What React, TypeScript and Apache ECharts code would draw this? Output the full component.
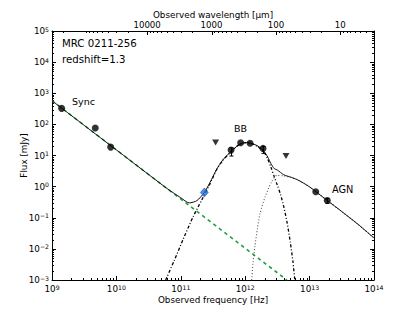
import React, { useEffect, useRef } from 'react';
import * as echarts from 'echarts';

// ---- Data (frequency in Hz, flux in mJy) ----
const totalFreq = [1e9, 3.16e9, 1e10, 3.16e10, 6.31e10, 1e11, 1.35e11, 1.78e11, 2.32e11, 2.82e11, 3.6e11, 4.47e11, 6.03e11, 7.94e11, 1e12, 1.26e12, 1.58e12, 1.9e12, 2.24e12, 2.51e12, 2.82e12, 3.16e12, 3.98e12, 5.01e12, 6.31e12, 7.94e12, 1e13, 1.26e13, 1.88e13, 3.16e13, 5.62e13, 1e14];
const totalFlux = [575, 93, 15.1, 2.45, 0.83, 0.44, 0.3, 0.355, 0.65, 1.32, 3.6, 7.1, 13.5, 21.9, 26.3, 24.5, 20, 14.8, 8.9, 5.5, 3.8, 3.4, 2.4, 2.04, 1.7, 1.32, 0.98, 0.68, 0.36, 0.158, 0.062, 0.0224];

const syncFreq = [1e9, 4.43e12];
const syncFlux = [575, 0.001];

const bbFreq = [5.82e10, 7.94e10, 1.1e11, 1.55e11, 2.11e11, 2.82e11, 3.6e11, 4.47e11, 6.03e11, 7.94e11, 1e12, 1.26e12, 1.58e12, 2e12, 2.24e12, 2.51e12, 2.82e12, 3.16e12, 3.55e12, 3.98e12, 4.47e12, 5.01e12, 5.5e12, 5.89e12];
const bbFlux = [0.001, 0.0043, 0.0214, 0.107, 0.37, 1.2, 3.5, 6.9, 13.2, 21.9, 25.7, 24, 19, 12, 7.6, 4.2, 2.1, 1.1, 0.55, 0.22, 0.071, 0.0166, 0.004, 0.001];

const agnFreq = [1.26e12, 1.32e12, 1.41e12, 1.55e12, 1.7e12, 2.04e12, 2.57e12, 3.09e12, 3.98e12, 5.01e12, 6.31e12, 7.94e12, 1e13, 1.26e13, 1.88e13, 3.16e13, 5.62e13, 1e14];
const agnFlux = [0.001, 0.0035, 0.0117, 0.045, 0.138, 0.47, 1.43, 2.3, 2.2, 2.0, 1.7, 1.32, 0.98, 0.68, 0.36, 0.158, 0.062, 0.0224];

const detFreq = [1.41e9, 4.7e9, 8.15e9, 6.03e11, 8.5e11, 1.19e12, 1.89e12, 1.245e13, 1.88e13];
const detFlux = [327, 76, 18.6, 14.9, 25.7, 24.6, 16.9, 0.68, 0.36];

const errFreq = [6.03e11, 1.89e12, 1.88e13];
const errLow = [9.6, 11.7, 0.29];
const errHigh = [17.5, 19.5, 0.42];

const limFreq = [3.47e11, 4.3e12];
const limFlux = [26, 9.6];

const diamondFreq = [2.32e11];
const diamondFlux = [0.65];

const wavelengthLabels = [10, 100, 1000, 10000];

const FONT = 'DejaVu Sans';

const supRich = {
  b: { fontSize: 8.8, lineHeight: 10, fontFamily: FONT, color: '#000' },
  s: { fontSize: 6.2, lineHeight: 4, verticalAlign: 'top', fontFamily: FONT, color: '#000' },
};
const supFmt = (v: number) => {
  const e = Math.round(Math.log10(v));
  const es = e < 0 ? '\u2212' + Math.abs(e) : String(e);
  return '{b|10}{s|' + es + '}';
};

export default function App() {
  const ref = useRef<HTMLDivElement>(null);
  useEffect(() => {
    const chart = echarts.init(ref.current!, null, { renderer: 'svg' });

    const xMinor: number[] = [];
    for (let n = 9; n <= 13; n++) for (let k = 2; k <= 9; k++) xMinor.push(k * Math.pow(10, n));
    const yMinor: number[] = [];
    for (let n = -3; n <= 4; n++) for (let k = 2; k <= 9; k++) yMinor.push(k * Math.pow(10, n));
    const lMinor: number[] = [];
    for (let n = 0; n <= 5; n++) for (let k = 2; k <= 9; k++) {
      const v = k * Math.pow(10, n);
      if (v > 3 && v < 3e5) lMinor.push(v);
    }

    const tickStyle = { stroke: '#000', lineWidth: 1 };

    const option: any = {
      animation: false,
      backgroundColor: '#fff',
      grid: { left: 52, right: 42, top: 31, bottom: 32, containLabel: false },
      xAxis: [
        {
          type: 'log', logBase: 10, min: 1e9, max: 1e14, position: 'bottom',
          axisLine: { show: true, onZero: false, lineStyle: { color: '#000', width: 1 } },
          axisTick: { show: true, inside: true, length: 4, lineStyle: { color: '#000', width: 1 } },
          axisLabel: { formatter: supFmt, rich: supRich, margin: 4, showMinLabel: true, showMaxLabel: true },
          splitLine: { show: false },
          name: 'Observed frequency [Hz]', nameLocation: 'middle', nameGap: 15, nameMoveOverlap: false,
          nameTextStyle: { fontFamily: FONT, fontSize: 8.8, color: '#000' },
        },
        {
          type: 'log', logBase: 10, min: 3, max: 3e5, inverse: true, position: 'top',
          axisLine: { show: true, onZero: false, lineStyle: { color: '#000', width: 1 } },
          axisTick: { show: false },
          axisLabel: {
            margin: 1.5, fontFamily: FONT, fontSize: 8.6, color: '#000', showMinLabel: true, showMaxLabel: true,
            formatter: (v: number) => (wavelengthLabels.indexOf(Math.round(v)) >= 0 ? String(Math.round(v)) : ''),
          },
          splitLine: { show: false },
          name: 'Observed wavelength [\u03bcm]', nameLocation: 'middle', nameGap: 12, nameMoveOverlap: false,
          nameTextStyle: { fontFamily: FONT, fontSize: 8.8, color: '#000' },
        },
      ],
      yAxis: [
        {
          type: 'log', logBase: 10, min: 1e-3, max: 1e5, position: 'left',
          axisLine: { show: true, onZero: false, lineStyle: { color: '#000', width: 1 } },
          axisTick: { show: true, inside: true, length: 4, lineStyle: { color: '#000', width: 1 } },
          axisLabel: { formatter: supFmt, rich: supRich, margin: 3, showMinLabel: true, showMaxLabel: true },
          splitLine: { show: false },
          name: 'Flux [mJy]', nameLocation: 'middle', nameGap: 24, nameRotate: 90, nameMoveOverlap: false,
          nameTextStyle: { fontFamily: FONT, fontSize: 8.8, color: '#000' },
        },
        {
          type: 'log', logBase: 10, min: 1e-3, max: 1e5, position: 'right',
          axisLine: { show: true, onZero: false, lineStyle: { color: '#000', width: 1 } },
          axisTick: { show: true, inside: true, length: 4, lineStyle: { color: '#000', width: 1 } },
          axisLabel: { show: false },
          splitLine: { show: false },
        },
      ],
      graphic: [
        { type: 'text', left: 62, top: 38, style: { text: 'MRC 0211-256', font: `10.2px "${FONT}"`, fill: '#000' } },
        { type: 'text', left: 62, top: 54, style: { text: 'redshift=1.3', font: `10.2px "${FONT}"`, fill: '#000' } },
        { type: 'text', left: 72, top: 96, style: { text: 'Sync', font: `9.5px "${FONT}"`, fill: '#000' } },
        { type: 'text', left: 234, top: 123, style: { text: 'BB', font: `9.5px "${FONT}"`, fill: '#000' } },
        { type: 'text', left: 332, top: 184, style: { text: 'AGN', font: `9.8px "${FONT}"`, fill: '#000' } },
      ],
      series: [
        {
          type: 'custom', xAxisIndex: 0, yAxisIndex: 0, silent: true, clip: false, z: 1,
          data: [[1e10, 1]],
          renderItem: (params: any, api: any) => {
            const children: any[] = [];
            const yb = api.coord([1e9, 1e-3])[1];
            const xl = api.coord([1e9, 1])[0];
            const xr = api.coord([1e14, 1])[0];
            xMinor.forEach((v) => {
              const x = Math.round(api.coord([v, 1])[0]) + 0.5;
              children.push({ type: 'line', shape: { x1: x, y1: yb, x2: x, y2: yb - 2 }, style: tickStyle });
            });
            yMinor.forEach((v) => {
              const y = Math.round(api.coord([1e9, v])[1]) + 0.5;
              children.push({ type: 'line', shape: { x1: xl, y1: y, x2: xl + 2, y2: y }, style: tickStyle });
              children.push({ type: 'line', shape: { x1: xr, y1: y, x2: xr - 2, y2: y }, style: tickStyle });
            });
            return { type: 'group', children };
          },
        },
        {
          type: 'custom', xAxisIndex: 1, yAxisIndex: 0, silent: true, clip: false, z: 1,
          data: [[100, 1]],
          renderItem: (params: any, api: any) => {
            const children: any[] = [];
            const yt = api.coord([100, 1e5])[1];
            wavelengthLabels.forEach((v) => {
              const x = Math.round(api.coord([v, 1])[0]) + 0.5;
              children.push({ type: 'line', shape: { x1: x, y1: yt, x2: x, y2: yt + 4 }, style: tickStyle });
            });
            lMinor.forEach((v) => {
              const x = Math.round(api.coord([v, 1])[0]) + 0.5;
              children.push({ type: 'line', shape: { x1: x, y1: yt, x2: x, y2: yt + 2 }, style: tickStyle });
            });
            return { type: 'group', children };
          },
        },
        {
          name: 'Sync', type: 'line', xAxisIndex: 0, yAxisIndex: 0, symbol: 'none', z: 2,
          data: syncFreq.map((f, i) => [f, syncFlux[i]]),
          lineStyle: { color: '#1fa03c', width: 1.6, type: [3.5, 3.5] },
        },
        {
          name: 'BB', type: 'line', xAxisIndex: 0, yAxisIndex: 0, symbol: 'none', z: 2, smooth: 0.25,
          data: bbFreq.map((f, i) => [f, bbFlux[i]]),
          lineStyle: { color: '#000', width: 1.3, type: [3, 2, 1, 2] },
        },
        {
          name: 'AGN', type: 'line', xAxisIndex: 0, yAxisIndex: 0, symbol: 'none', z: 2, smooth: 0.25,
          data: agnFreq.map((f, i) => [f, agnFlux[i]]),
          lineStyle: { color: '#555', width: 1.1, type: [1, 2] },
        },
        {
          name: 'Total', type: 'line', xAxisIndex: 0, yAxisIndex: 0, symbol: 'none', z: 3, smooth: 0.25,
          data: totalFreq.map((f, i) => [f, totalFlux[i]]),
          lineStyle: { color: '#111', width: 1 },
        },
        {
          type: 'custom', xAxisIndex: 0, yAxisIndex: 0, z: 4, silent: true,
          data: errFreq.map((f, i) => [f, errLow[i], errHigh[i]]),
          renderItem: (params: any, api: any) => {
            const lo = api.coord([api.value(0), api.value(1)]);
            const hi = api.coord([api.value(0), api.value(2)]);
            const x = Math.round(lo[0]) + 0.5;
            const st = { stroke: '#000', lineWidth: 1 };
            return {
              type: 'group',
              children: [
                { type: 'line', shape: { x1: x, y1: lo[1], x2: x, y2: hi[1] }, style: st },
                { type: 'line', shape: { x1: x - 2, y1: lo[1], x2: x + 2, y2: lo[1] }, style: st },
                { type: 'line', shape: { x1: x - 2, y1: hi[1], x2: x + 2, y2: hi[1] }, style: st },
              ],
            };
          },
        },
        {
          name: 'Detections', type: 'scatter', xAxisIndex: 0, yAxisIndex: 0, z: 5,
          data: detFreq.map((f, i) => [f, detFlux[i]]),
          symbol: 'circle', symbolSize: 7, itemStyle: { color: '#000' },
        },
        {
          name: 'Upper limits', type: 'scatter', xAxisIndex: 0, yAxisIndex: 0, z: 5,
          data: limFreq.map((f, i) => [f, limFlux[i]]),
          symbol: 'triangle', symbolRotate: 180, symbolSize: [7, 6], itemStyle: { color: '#000' },
        },
        {
          name: 'Diamond', type: 'scatter', xAxisIndex: 0, yAxisIndex: 0, z: 6,
          data: diamondFreq.map((f, i) => [f, diamondFlux[i]]),
          symbol: 'diamond', symbolSize: [8, 9], itemStyle: { color: '#1f6fe0', borderColor: '#0a3a8a', borderWidth: 0.6 },
        },
      ],
    };
    chart.setOption(option);
    return () => chart.dispose();
  }, []);
  return <div ref={ref} style={{ position: 'absolute', left: 0, top: 0, width: 416, height: 312 }} />;
}
